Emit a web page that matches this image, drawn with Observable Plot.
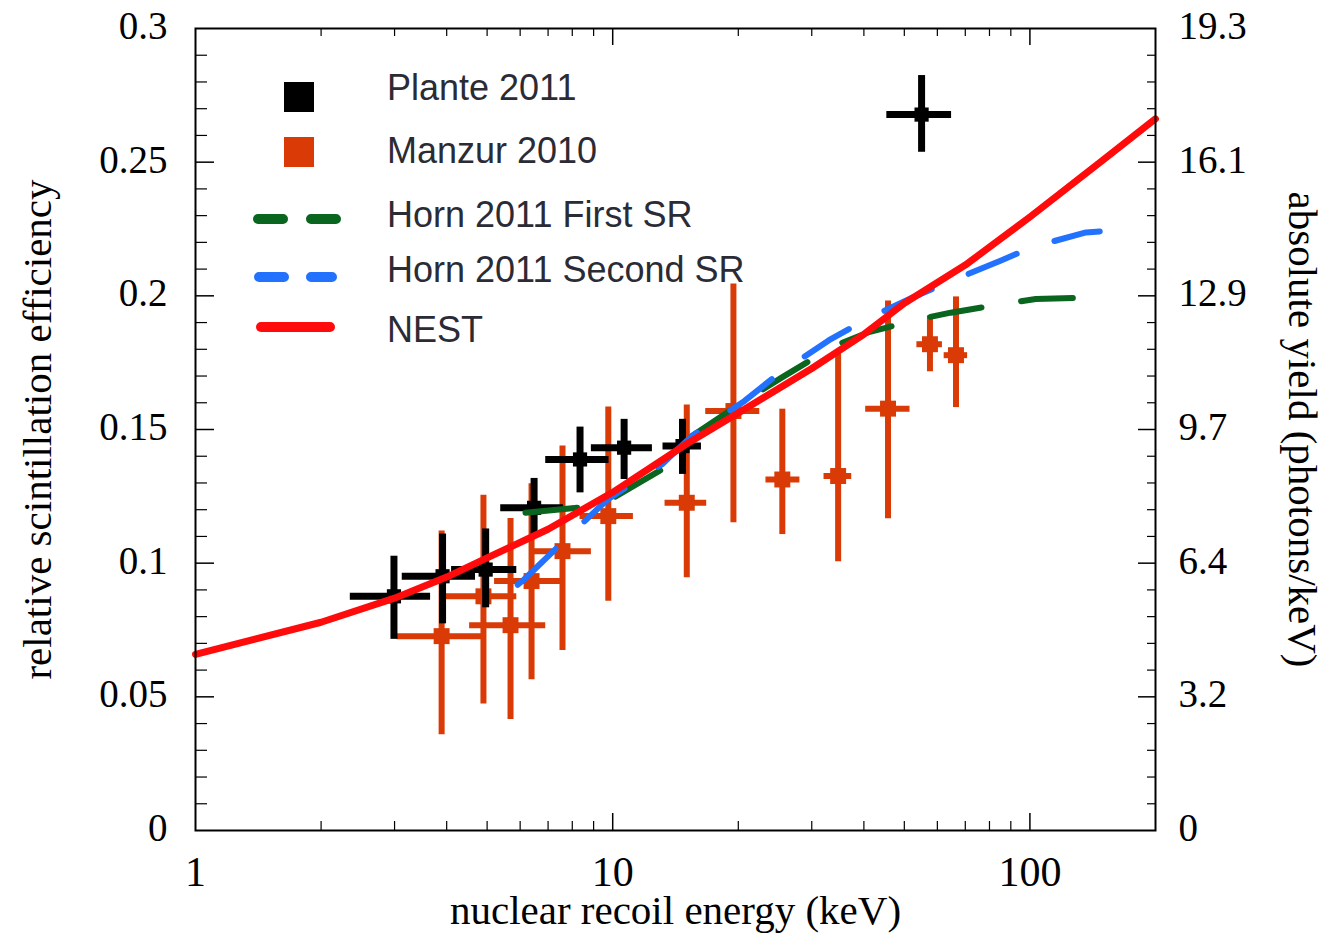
<!DOCTYPE html>
<html>
<head>
<meta charset="utf-8">
<script src="https://cdn.jsdelivr.net/npm/d3@7"></script>
<script src="https://cdn.jsdelivr.net/npm/@observablehq/plot@0.6"></script>
<style>
  html, body { margin: 0; padding: 0; background: #fff; }
  #chart { width: 1329px; height: 939px; }
</style>
</head>
<body>
<div id="chart"></div>
<script>
// ---- Plante 2011 (black) ----
const planteE   = [2.99, 3.91, 4.96, 6.48, 8.35, 10.65, 14.70, 55.0];
const planteELo = [2.35, 3.13, 4.11, 5.39, 6.91, 8.89, 13.20, 45.4];
const planteEHi = [3.66, 4.69, 5.89, 7.62, 9.80, 12.45, 16.32, 64.9];
const planteY   = [0.0876, 0.0951, 0.0976, 0.1207, 0.1388, 0.1432, 0.1438, 0.2678];
const planteYLo = [0.0715, 0.0773, 0.0833, 0.1093, 0.1263, 0.1313, 0.1332, 0.2537];
const planteYHi = [0.1026, 0.1109, 0.1128, 0.1317, 0.1509, 0.1538, 0.1538, 0.2824];

// ---- Manzur 2010 (orange) ----
const manzurE   = [3.89, 4.90, 5.69, 6.39, 7.58, 9.76, 15.05, 19.47, 25.5, 34.7, 45.7, 57.6, 66.5];
const manzurELo = [3.04, 3.98, 4.54, 5.21, 6.48, 8.35, 13.35, 16.71, 23.3, 32.1, 40.4, 53.6, 62.3];
const manzurEHi = [4.87, 5.89, 6.91, 7.51, 8.89, 11.21, 16.80, 22.52, 28.1, 37.4, 51.6, 61.7, 70.9];
const manzurY   = [0.0727, 0.0876, 0.0768, 0.0933, 0.1045, 0.1176, 0.1226, 0.1569, 0.1313, 0.1326, 0.1578, 0.1819, 0.1778];
const manzurYLo = [0.0358, 0.0473, 0.0415, 0.0564, 0.0673, 0.0858, 0.0945, 0.1151, 0.1107, 0.1005, 0.1166, 0.1716, 0.1582];
const manzurYHi = [0.1120, 0.1254, 0.1167, 0.1297, 0.1438, 0.1584, 0.1592, 0.2044, 0.1576, 0.1782, 0.1981, 0.1925, 0.1996];

// ---- Horn 2011 First SR (green) ----
const hornFirstE = [4.96, 6.13, 8.22, 9.72, 13.13, 15.49, 20.7, 25.4, 34.0, 40.9, 54.4, 64.6, 86.7, 103.3, 138.6, 148];
const hornFirstY = [0.1176, 0.1188, 0.1207, 0.1232, 0.1351, 0.1476, 0.1607, 0.1694, 0.1813, 0.1863, 0.1913, 0.1937, 0.1971, 0.1988, 0.1994, 0.1990];

// ---- Horn 2011 Second SR (blue) ----
const hornSecondE = [5.0, 6.13, 8.08, 9.72, 13.13, 15.49, 20.7, 24.9, 33.0, 40.3, 52.5, 63.2, 85.0, 101.5, 136.3, 147];
const hornSecondY = [0.0823, 0.0939, 0.1120, 0.1238, 0.1370, 0.1476, 0.1607, 0.1707, 0.1834, 0.1910, 0.1995, 0.2049, 0.2131, 0.2183, 0.2237, 0.2241];

// ---- NEST (red) ----
const nestE = [1, 2, 3, 4, 5, 7, 10, 15, 20, 30, 40, 50, 70, 100, 150, 200];
const nestY = [0.0659, 0.0779, 0.0869, 0.0948, 0.1020, 0.1127, 0.1265, 0.1445, 0.1562, 0.1728, 0.1856, 0.1972, 0.2115, 0.2295, 0.2509, 0.2662];

// ---- ticks & labels ----
const xTicks = [1, 10, 100];
const xTickLabels = ["1", "10", "100"];
const xMajorTicks = [10, 100];
const xMinorTicks = [2, 3, 4, 5, 6, 7, 8, 9, 20, 30, 40, 50, 60, 70, 80, 90];
const yTicks = [0, 0.05, 0.1, 0.15, 0.2, 0.25, 0.3];
const yTickLabels = ["0", "0.05", "0.1", "0.15", "0.2", "0.25", "0.3"];
const yRightLabels = ["0", "3.2", "6.4", "9.7", "12.9", "16.1", "19.3"];
const yMajorTicks = [0.05, 0.1, 0.15, 0.2, 0.25];
const yMinorTicks = [0.01, 0.02, 0.03, 0.04, 0.06, 0.07, 0.08, 0.09, 0.11, 0.12, 0.13, 0.14,
                     0.16, 0.17, 0.18, 0.19, 0.21, 0.22, 0.23, 0.24, 0.26, 0.27, 0.28, 0.29];

const legendNames = ["Plante 2011", "Manzur 2010", "Horn 2011 First SR", "Horn 2011 Second SR", "NEST"];

const BLACK = "#000000", ORANGE = "#d93a06", GREEN = "#0a651f", BLUE = "#2272ff", RED = "#ff0b0b";

const plante = planteE.map((e, i) => ({e, elo: planteELo[i], ehi: planteEHi[i], y: planteY[i], ylo: planteYLo[i], yhi: planteYHi[i]}));
const manzur = manzurE.map((e, i) => ({e, elo: manzurELo[i], ehi: manzurEHi[i], y: manzurY[i], ylo: manzurYLo[i], yhi: manzurYHi[i]}));
const hornFirst = hornFirstE.map((e, i) => ({e, y: hornFirstY[i]}));
const hornSecond = hornSecondE.map((e, i) => ({e, y: hornSecondY[i]}));
const nest = nestE.map((e, i) => ({e, y: nestY[i]}));

const W = 1329, H = 939, ML = 195, MR = 174, MT = 28, MB = 109;
const PW = W - ML - MR, PH = H - MT - MB;

const chart = Plot.plot({
  width: W, height: H,
  marginLeft: ML, marginRight: MR, marginTop: MT, marginBottom: MB,
  x: {type: "log", domain: [1, 200]},
  y: {domain: [0, 0.3]},
  style: {fontFamily: "'Liberation Serif', 'Times New Roman', serif", fontSize: "40px", background: "#fff", color: "#000", overflow: "visible"},
  marks: [
    // ticks (inward)
    Plot.ruleX(xMajorTicks, {x: d => d, insetTop: PH - 17, stroke: BLACK, strokeWidth: 1.5}),
    Plot.ruleX(xMajorTicks, {x: d => d, insetBottom: PH - 17, stroke: BLACK, strokeWidth: 1.5}),
    Plot.ruleX(xMinorTicks, {x: d => d, insetTop: PH - 9, stroke: BLACK, strokeWidth: 1.2}),
    Plot.ruleX(xMinorTicks, {x: d => d, insetBottom: PH - 8, stroke: BLACK, strokeWidth: 1.2}),
    Plot.ruleY(yMajorTicks, {y: d => d, insetRight: PW - 19, stroke: BLACK, strokeWidth: 1.5}),
    Plot.ruleY(yMajorTicks, {y: d => d, insetLeft: PW - 17, stroke: BLACK, strokeWidth: 1.5}),
    Plot.ruleY(yMinorTicks, {y: d => d, insetRight: PW - 12, stroke: BLACK, strokeWidth: 1.2}),
    Plot.ruleY(yMinorTicks, {y: d => d, insetLeft: PW - 8, stroke: BLACK, strokeWidth: 1.2}),

    // axes labels
    Plot.axisX({ticks: xTicks, tickFormat: d => xTickLabels[xTicks.indexOf(d)], tickSize: 0, tickPadding: 26, fontSize: 42, label: null}),
    Plot.axisY({anchor: "left", ticks: yTicks, tickFormat: d => yTickLabels[yTicks.indexOf(d)], tickSize: 0, tickPadding: 28, fontSize: 39, dy: -2, label: null}),
    Plot.axisY({anchor: "right", ticks: yTicks, tickFormat: d => yRightLabels[yTicks.indexOf(d)], tickSize: 0, tickPadding: 23, fontSize: 39, dy: -2, label: null}),

    // titles
    Plot.text(["nuclear recoil energy (keV)"], {text: d => d, frameAnchor: "bottom", lineAnchor: "middle", textAnchor: "middle", dy: 80, fontSize: 41}),
    Plot.text(["relative scintillation efficiency"], {text: d => d, frameAnchor: "left", textAnchor: "middle", lineAnchor: "middle", dx: -158, rotate: -90, fontSize: 41}),
    Plot.text(["absolute yield (photons/keV)"], {text: d => d, frameAnchor: "right", textAnchor: "middle", lineAnchor: "middle", dx: 147, rotate: 90, fontSize: 41}),

    // Manzur
    Plot.ruleY(manzur, {y: "y", x1: "elo", x2: "ehi", stroke: ORANGE, strokeWidth: 6}),
    Plot.ruleX(manzur, {x: "e", y1: "ylo", y2: "yhi", stroke: ORANGE, strokeWidth: 6}),
    Plot.dot(manzur, {x: "e", y: "y", symbol: "square", r: 9, fill: ORANGE}),

    // Plante
    Plot.ruleY(plante, {y: "y", x1: "elo", x2: "ehi", stroke: BLACK, strokeWidth: 7}),
    Plot.ruleX(plante, {x: "e", y1: "ylo", y2: "yhi", stroke: BLACK, strokeWidth: 7}),
    Plot.dot(plante, {x: "e", y: "y", symbol: "square", r: 8, fill: BLACK}),

    // Horn curves
    Plot.line(hornFirst, {x: "e", y: "y", stroke: GREEN, strokeWidth: 6, strokeDasharray: "52,40", strokeDashoffset: 52, strokeLinecap: "round"}),
    Plot.line(hornSecond, {x: "e", y: "y", stroke: BLUE, strokeWidth: 6, strokeDasharray: "52,40", strokeDashoffset: 52, strokeLinecap: "round"}),

    // NEST
    Plot.line(nest, {x: "e", y: "y", stroke: RED, strokeWidth: 7, strokeLinecap: "round"}),

    Plot.frame({stroke: BLACK, strokeWidth: 2})
  ]
});

document.getElementById("chart").appendChild(chart);

// ---- legend ----
const svg = d3.select(chart);
const lg = svg.append("g").attr("class", "legend").attr("text-anchor", "start");
lg.append("rect").attr("x", 284).attr("y", 82).attr("width", 30).attr("height", 30).attr("fill", BLACK);
lg.append("rect").attr("x", 284).attr("y", 137).attr("width", 30).attr("height", 30).attr("fill", ORANGE);
const legendLines = [
  {y: 219, color: GREEN, x1: 258, x2: 336, dash: "25,28"},
  {y: 277, color: BLUE, x1: 259, x2: 332, dash: "25,27"},
  {y: 327, color: RED, x1: 261, x2: 330, dash: null}
];
legendLines.forEach(l => {
  const ln = lg.append("line").attr("x1", l.x1).attr("x2", l.x2).attr("y1", l.y).attr("y2", l.y)
    .attr("stroke", l.color).attr("stroke-width", 10).attr("stroke-linecap", "round");
  if (l.dash) ln.attr("stroke-dasharray", l.dash);
});
const legendBaselines = [100, 163, 227, 282, 342];
legendNames.forEach((name, i) => {
  lg.append("text").attr("x", 387).attr("y", legendBaselines[i])
    .attr("text-anchor", "start")
    .attr("font-family", "'Liberation Sans', Arial, sans-serif").attr("font-size", 36)
    .attr("fill", "#2b2b35").text(name);
});
</script>
</body>
</html>
